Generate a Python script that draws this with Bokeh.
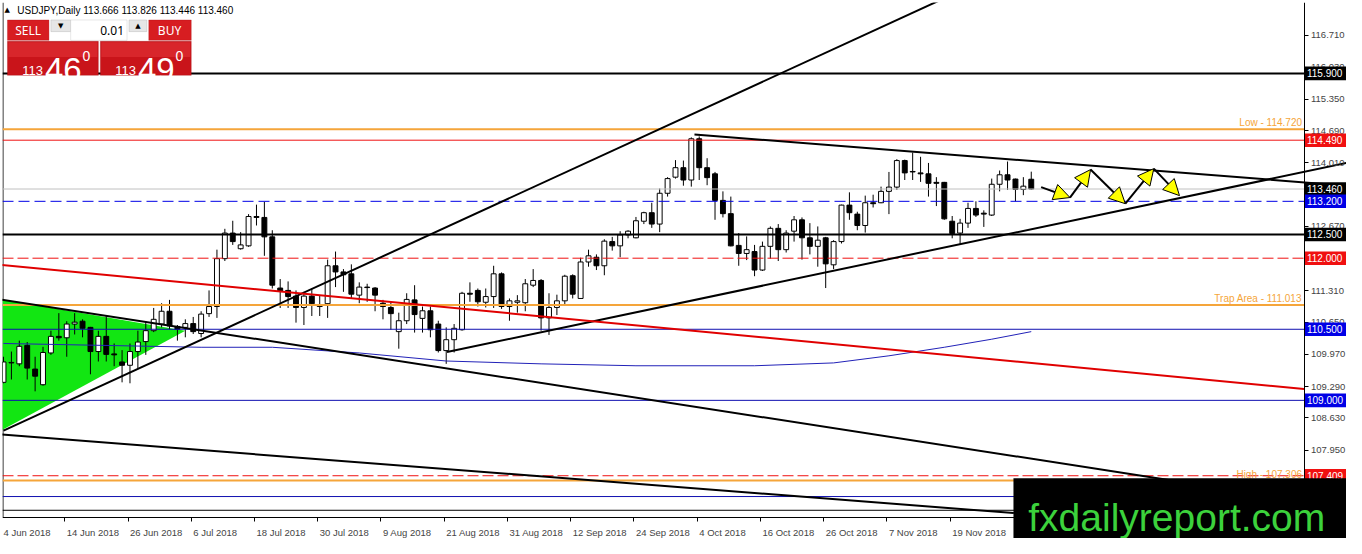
from bokeh.plotting import figure
from bokeh.models import (ColumnDataSource, FixedTicker, NumeralTickFormatter, Label,
                          BoxAnnotation, Arrow, NormalHead, LinearAxis)
from bokeh.embed import file_html
from bokeh.resources import INLINE

# USDJPY daily candles, bar 0 = 4 Jun 2018 ... bar 130 = 3 Dec 2018
opens = [109.38, 109.79, 109.77, 110.16, 109.66, 109.33, 110.00, 110.35, 110.32, 110.61,
         110.67, 110.54, 110.03, 110.35, 109.98, 109.81, 109.74, 110.03, 110.24, 110.47,
         110.61, 110.88, 110.56, 110.54, 110.62, 110.41, 110.83, 110.98, 111.99, 112.53,
         112.20, 112.26, 112.88, 112.86, 112.45, 111.37, 111.32, 111.20, 110.96, 111.20,
         111.00, 111.04, 111.84, 111.71, 111.67, 111.22, 111.39, 111.37, 111.05, 110.96,
         110.45, 110.68, 111.12, 110.73, 110.89, 110.61, 110.05, 110.28, 110.49, 111.26,
         111.32, 111.07, 111.19, 111.67, 110.98, 111.07, 111.06, 111.43, 111.53, 110.74,
         110.96, 111.10, 111.63, 111.15, 111.92, 112.02, 111.84, 112.35, 112.26, 112.49,
         112.43, 112.78, 112.96, 112.72, 113.37, 113.71, 113.91, 113.65, 114.52, 113.91,
         113.78, 113.22, 112.94, 112.27, 112.10, 112.14, 111.75, 112.25, 112.63, 112.18,
         112.57, 112.81, 112.43, 112.25, 112.43, 111.86, 112.35, 113.12, 112.93, 112.69,
         113.17, 113.17, 113.41, 113.50, 114.06, 113.83, 113.80, 113.78, 113.60, 113.60,
         112.78, 112.53, 112.74, 113.05, 112.95, 112.91, 113.56, 113.76, 113.67, 113.45,
         113.666]
highs = [109.92, 110.03, 110.26, 110.23, 109.92, 110.13, 110.47, 110.84, 110.67, 110.84,
         110.71, 110.55, 110.47, 110.78, 110.20, 110.06, 110.20, 110.47, 110.67, 110.95,
         111.05, 111.12, 110.59, 110.71, 110.76, 110.88, 111.32, 112.18, 112.62, 112.79,
         112.55, 112.93, 113.13, 113.19, 112.59, 111.56, 111.51, 111.32, 111.29, 111.36,
         111.22, 111.97, 112.14, 111.77, 111.87, 111.49, 111.46, 111.39, 111.12, 111.08,
         110.85, 111.26, 111.43, 110.98, 110.98, 110.68, 110.54, 110.61, 111.29, 111.49,
         111.36, 111.36, 111.84, 111.70, 111.15, 111.22, 111.56, 111.77, 111.56, 111.26,
         111.23, 111.65, 111.66, 112.01, 112.18, 112.08, 112.40, 112.45, 112.57, 112.59,
         112.87, 112.98, 113.17, 113.47, 113.71, 114.07, 114.06, 114.55, 114.57, 114.11,
         113.82, 113.41, 113.30, 112.53, 112.46, 112.28, 112.35, 112.67, 112.72, 112.59,
         112.89, 112.86, 112.74, 112.67, 112.45, 112.38, 113.13, 113.39, 112.98, 113.32,
         113.34, 113.51, 113.82, 114.09, 114.08, 114.23, 114.14, 114.01, 113.71, 113.61,
         112.89, 112.83, 113.17, 113.20, 113.01, 113.68, 113.85, 114.04, 113.68, 113.71,
         113.826]
lows = [109.36, 109.44, 109.72, 109.44, 109.19, 109.31, 109.96, 110.26, 109.92, 110.39,
        110.33, 109.55, 109.82, 109.82, 109.72, 109.38, 109.36, 109.68, 109.96, 110.44,
        110.54, 110.50, 110.26, 110.33, 110.40, 110.33, 110.76, 110.74, 111.94, 112.28,
        112.18, 112.24, 112.69, 112.05, 111.36, 110.95, 110.95, 110.64, 110.59, 110.78,
        110.78, 110.74, 111.39, 111.29, 111.15, 111.05, 111.08, 110.88, 110.71, 110.49,
        110.09, 110.61, 110.43, 110.43, 110.33, 110.01, 109.77, 110.01, 110.47, 111.08,
        110.98, 110.96, 110.95, 110.93, 110.68, 110.85, 110.88, 111.39, 110.47, 110.38,
        110.80, 111.00, 111.15, 111.14, 111.82, 111.75, 111.64, 112.16, 112.02, 112.42,
        112.42, 112.72, 112.64, 112.55, 113.30, 113.68, 113.53, 113.51, 113.65, 113.54,
        112.81, 112.86, 112.25, 111.84, 111.96, 111.62, 111.73, 111.99, 111.94, 112.12,
        112.35, 111.97, 112.08, 111.82, 111.37, 111.77, 112.31, 112.81, 112.59, 112.54,
        113.07, 113.16, 112.93, 113.44, 113.65, 113.65, 113.61, 113.30, 113.10, 112.81,
        112.42, 112.30, 112.64, 112.87, 112.66, 112.89, 113.41, 113.44, 113.20, 113.33,
        113.446]
closes = [109.81, 109.80, 110.14, 109.68, 109.51, 110.01, 110.35, 110.32, 110.61, 110.65,
          110.52, 110.03, 110.35, 109.97, 109.96, 109.74, 110.03, 110.23, 110.47, 110.71,
          110.88, 110.57, 110.50, 110.62, 110.45, 110.82, 110.98, 111.99, 112.53, 112.35,
          112.28, 112.88, 112.86, 112.45, 111.43, 111.31, 111.19, 110.96, 111.20, 111.04,
          110.98, 111.84, 111.71, 111.65, 111.24, 111.39, 111.38, 111.22, 110.98, 110.83,
          110.68, 111.13, 110.81, 110.89, 110.49, 110.05, 110.28, 110.52, 111.26, 111.24,
          111.08, 111.19, 111.67, 110.98, 111.10, 111.10, 111.46, 111.53, 110.74, 110.96,
          111.10, 111.62, 111.24, 111.92, 112.05, 111.84, 112.36, 112.26, 112.49, 112.57,
          112.79, 112.96, 112.72, 113.37, 113.68, 113.91, 113.65, 114.52, 113.91, 113.70,
          113.22, 112.94, 112.26, 112.10, 112.18, 111.75, 112.25, 112.63, 112.18, 112.53,
          112.81, 112.43, 112.25, 112.38, 111.88, 112.35, 113.12, 112.96, 112.69, 113.17,
          113.15, 113.41, 113.50, 114.06, 113.80, 113.82, 113.78, 113.58, 113.58, 112.83,
          112.52, 112.74, 113.05, 112.91, 112.93, 113.56, 113.76, 113.65, 113.45, 113.52,
          113.460]

date_ticks = [0, 8, 16, 24, 32, 40, 48, 56, 64, 72, 80, 88, 96, 104, 112, 120]
date_labels = ["4 Jun 2018", "14 Jun 2018", "26 Jun 2018", "6 Jul 2018", "18 Jul 2018",
               "30 Jul 2018", "9 Aug 2018", "21 Aug 2018", "31 Aug 2018", "12 Sep 2018",
               "24 Sep 2018", "4 Oct 2018", "16 Oct 2018", "26 Oct 2018", "7 Nov 2018",
               "19 Nov 2018"]
price_ticks = [116.71, 116.03, 115.35, 114.69, 114.01, 113.34, 112.67, 111.99, 111.31,
               110.65, 109.97, 109.29, 108.63, 107.95]

ma_bars = [0, 25, 34, 45, 56, 68, 80, 95, 105, 112, 119, 125, 130]
ma_values = [110.20, 110.12, 110.12, 110.00, 109.83, 109.77, 109.73, 109.73, 109.79,
             109.94, 110.12, 110.29, 110.45]

# horizontal levels
black_levels = [115.900, 112.500]
red_levels = [114.490]
red_dash_levels = [112.000, 107.409]
blue_levels = [110.500, 109.000, 106.970]
blue_dash_levels = [113.200]
thin_black_levels = [106.680]
bid, ask = 113.460, 113.490
orange_levels = [114.720, 111.013, 107.306]
orange_names = ["Low", "Trap Area", "High"]

# trendlines (bar0, price0, bar1, price1)
black_trends = [(0.0, 108.36, 118.4, 117.44),
                (-0.4, 111.13, 147.8, 107.31),
                (-0.4, 108.28, 127.8, 106.62),
                (56.1, 110.02, 169.9, 114.01),
                (87.4, 114.61, 169.9, 113.53)]
red_trends = [(-0.4, 111.86, 164.5, 109.24)]

# green triangle
tri_bars = [-0.125, -0.125, 23.0]
tri_prices = [111.13, 108.38, 110.47]

# projected zigzag
zz_bars = [131.25, 134.9, 137.5, 141.9, 145.5, 148.75]
zz_prices = [113.50, 113.28, 113.87, 113.15, 113.89, 113.32]


# screenshot pixel -> data, used only to place the overlay widgets
def bx(px):
    return (px - 3) / 8.0


def by(py):
    return 115.9 - (py - 75) / 48.8


X0, X1 = bx(2), bx(1362)      # frame covers the whole picture
Y0, Y1 = by(554), by(2)
XA, YA = bx(1319), by(532)    # where the price and time scales sit

FONT = "Liberation Sans"
RED = "#F01010"
BLUE = "#0000E6"
ORANGE = "#F5A53A"

p = figure(width=1346, height=538, x_range=(X0, X1), y_range=(Y0, Y1),
           output_backend="svg", toolbar_location=None, tools="",
           y_axis_location="right", min_border_left=2, min_border_top=2,
           min_border_right=0, min_border_bottom=0)
p.background_fill_color = "white"
p.border_fill_color = "white"
p.outline_line_color = None
p.grid.visible = False

ya = p.yaxis[0]
ya.fixed_location = XA
ya.ticker = FixedTicker(ticks=price_ticks)
ya.formatter = NumeralTickFormatter(format="0.000")
ya.major_label_text_font = FONT
ya.major_label_text_font_size = "9.5px"
ya.major_tick_in = 0
ya.major_tick_out = 4
ya.major_label_standoff = 3
ya.minor_tick_line_color = None
ya.axis_line_color = "black"

# time scale: tick marks at the bars
xa = p.xaxis[0]
xa.fixed_location = YA
xa.ticker = FixedTicker(ticks=[t - 0.25 for t in date_ticks])
xa.major_label_text_color = None
xa.major_tick_in = 0
xa.major_tick_out = 4
xa.minor_tick_line_color = None

# time scale labels: text starts at the bar, so centre them half a label width later
EM = {" ": .278, "J": .5, "u": .556, "n": .556, "l": .222, "A": .667, "g": .556,
      "S": .667, "e": .556, "p": .556, "O": .778, "c": .5, "t": .278, "N": .722,
      "o": .556, "v": .5}
DATE_PX = 9.5
bar_px = 1344 / (X1 - X0)
centres = [t + sum(EM.get(ch, .556) for ch in s) * DATE_PX / 2 / bar_px
           for t, s in zip(date_ticks, date_labels)]
xb = LinearAxis(fixed_location=YA, ticker=FixedTicker(ticks=centres),
                major_label_overrides=dict(zip(centres, date_labels)),
                axis_line_color=None, major_tick_line_color=None,
                minor_tick_line_color=None, major_label_standoff=4,
                major_label_text_font=FONT, major_label_text_font_size=f"{DATE_PX}px")
p.add_layout(xb, "below")

# chart border on the left
p.segment([bx(2.5)], [YA], [bx(2.5)], [Y1], line_color="black", line_width=1)

# green triangle (background object)
p.patch(tri_bars, tri_prices, fill_color="#12E612", line_color=None)

# candles
idx = list(range(len(opens)))
src = ColumnDataSource(data=dict(
    x=idx, high=highs, low=lows,
    top=[max(o, c) for o, c in zip(opens, closes)],
    bottom=[min(o, c) for o, c in zip(opens, closes)],
    fill=["white" if c >= o else "black" for o, c in zip(opens, closes)],
))
p.segment("x", "low", "x", "high", source=src, line_color="black", line_width=1)
p.vbar(x="x", width=0.62, top="top", bottom="bottom", fill_color="fill",
       line_color="black", line_width=1, source=src)

# moving average
p.line(ma_bars, ma_values, line_color="#2222B8", line_width=1)


def hline(levels, color, width=1, dash="solid"):
    n = len(levels)
    p.segment([X0] * n, levels, [XA] * n, levels, line_color=color,
              line_width=width, line_dash=dash)


# horizontal levels
hline([bid], "#C0C0C0")
hline(black_levels, "black", 2)
hline(thin_black_levels, "black")
hline(red_levels, RED)
hline(red_dash_levels, RED, 1, "11 4")
hline(blue_levels, "#1010B0")
hline(blue_dash_levels, BLUE, 1, "11 5")
hline(orange_levels, ORANGE, 2)

# trendlines
for x0, y0, x1, y1 in black_trends:
    p.line([x0, x1], [y0, y1], line_color="black", line_width=2)
for x0, y0, x1, y1 in red_trends:
    p.line([x0, x1], [y0, y1], line_color="#E00000", line_width=2)

for lv, name in zip(orange_levels, orange_names):
    p.add_layout(Label(x=XA, y=lv, x_offset=-2, y_offset=1, text=f"{name} - {lv:.3f}",
                       text_align="right", text_baseline="bottom", text_color=ORANGE,
                       text_font=FONT, text_font_size="10px"))

# projected zigzag with yellow arrow heads
for i in range(len(zz_bars) - 1):
    p.add_layout(Arrow(end=NormalHead(size=16, fill_color="#FFFF00", line_color="black",
                                      line_width=1),
                       x_start=zz_bars[i], y_start=zz_prices[i],
                       x_end=zz_bars[i + 1], y_end=zz_prices[i + 1],
                       line_color="black", line_width=2))

# price tags on the right scale
tags = ([(lv, "black") for lv in black_levels + [bid]] +
        [(lv, RED) for lv in red_levels + red_dash_levels] +
        [(lv, BLUE) for lv in blue_levels[:2] + blue_dash_levels])
half = 7 / 48.8
for lv, col in tags:
    p.add_layout(BoxAnnotation(left=bx(1320), right=X1 + 1, top=lv + half,
                               bottom=lv - half, fill_color=col, fill_alpha=1,
                               line_color=None))
    p.add_layout(Label(x=bx(1322), y=lv, text=f"{lv:.3f}", text_align="left",
                       text_baseline="middle", text_color="white", text_font=FONT,
                       text_font_size="10px"))

# header
p.add_layout(Label(x=bx(4), y=by(10), text="\u25b2", text_baseline="middle",
                   text_font="DejaVu Sans", text_font_size="7px", text_color="black"))
p.add_layout(Label(x=bx(17), y=by(10),
                   text=f"USDJPY,Daily  {opens[-1]:.3f} {highs[-1]:.3f} {lows[-1]:.3f} {closes[-1]:.3f}",
                   text_baseline="middle", text_font=FONT, text_font_size="10px",
                   text_color="black"))


# one-click trading panel
def box(l, r, t, b, fill, line=None):
    p.add_layout(BoxAnnotation(left=bx(l), right=bx(r), top=by(t), bottom=by(b),
                               fill_color=fill, fill_alpha=1, line_color=line,
                               line_width=1, level="overlay"))


def txt(x, y, s, size, color="white", align="left", base="alphabetic", font="Noto Sans"):
    p.add_layout(Label(x=bx(x), y=by(y), text=s, text_align=align, text_baseline=base,
                       text_color=color, text_font=font, text_font_size=size,
                       level="overlay"))


box(7, 49, 20, 41, "#D71D21", "#A80D10")
box(150, 193, 20, 41, "#D71D21", "#A80D10")
box(51, 71, 20, 32, "#E6E6E6", "#9A9A9A")
box(130, 148, 20, 32, "#E6E6E6", "#9A9A9A")
box(71, 128, 20, 41, "white", "#B4B4B4")
box(7, 99, 42, 77, "#C9141A", "#9E0A0D")
box(101, 193, 42, 77, "#C9141A", "#9E0A0D")
box(8, 98, 43, 58, "#D8262B")
box(102, 192, 43, 58, "#D8262B")
txt(28, 31, "SELL", "12px", align="center", base="middle")
txt(171, 31, "BUY", "12px", align="center", base="middle")
txt(61, 26, "\u25bc", "7px", color="black", align="center", base="middle", font="DejaVu Sans")
txt(139, 26, "\u25b2", "7px", color="black", align="center", base="middle", font="DejaVu Sans")
txt(125, 31, "0.01", "12px", color="black", align="right", base="middle")
bid_s, ask_s = f"{bid:.3f}", f"{ask:.3f}"
txt(22, 72, bid_s[:3], "13px", font=FONT)
txt(45, 71, bid_s[4:6], "33px", font=FONT)
txt(83, 57, bid_s[6], "14px", font=FONT)
txt(116, 72, ask_s[:3], "13px", font=FONT)
txt(139, 71, ask_s[4:6], "33px", font=FONT)
txt(177, 57, ask_s[6], "14px", font=FONT)

# watermark
p.add_layout(BoxAnnotation(left=bx(1025), right=X1 + 2, top=by(492), bottom=Y0 - 1,
                           fill_color="black", fill_alpha=1, line_color=None,
                           level="overlay"))
txt(1040, 532, "fxdailyreport.com", "39px", color="#3CD23C", font=FONT)

open("out.html", "w").write(file_html(p, INLINE))
